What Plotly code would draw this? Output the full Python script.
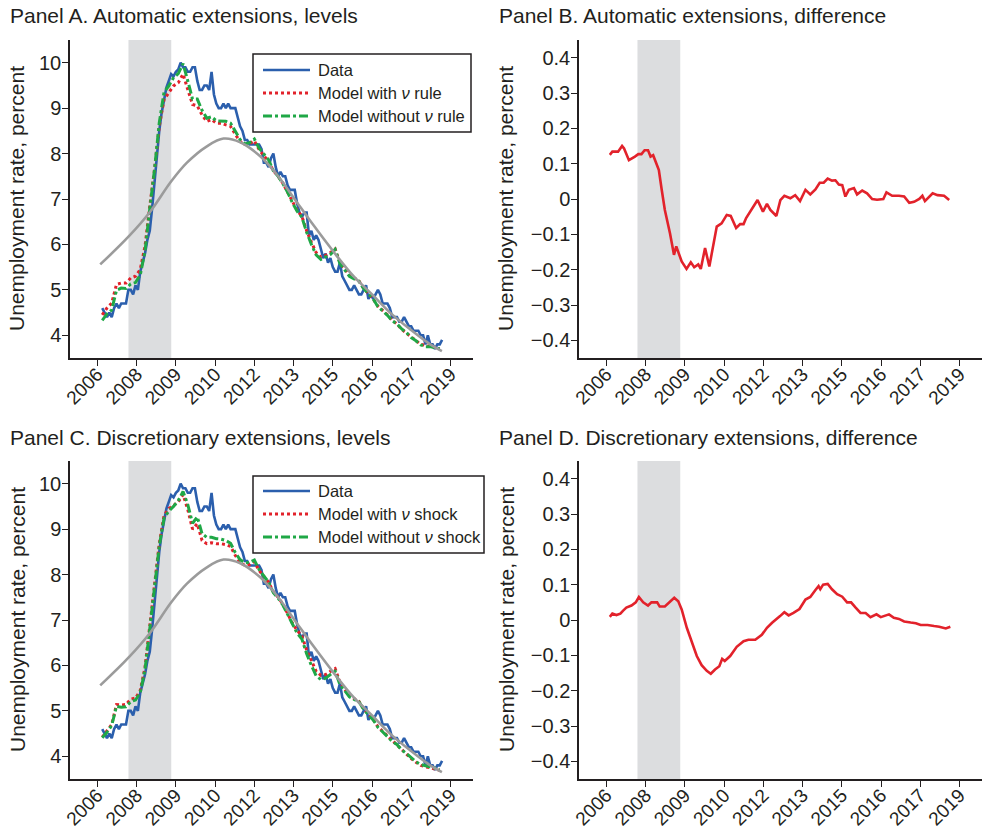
import plotly.graph_objects as go

# ---------------- data ----------------
# Monthly unemployment rate (Data), Jan 2007 - Dec 2018
data_start = 2007.0
data_rate = [
    4.6, 4.5, 4.4, 4.5, 4.4, 4.6, 4.7, 4.6, 4.7, 4.7, 4.7, 5.0,
    5.0, 4.9, 5.1, 5.0, 5.4, 5.6, 5.8, 6.1, 6.3, 6.8, 7.4, 8.0,
    8.5, 8.9, 9.2, 9.45, 9.6, 9.75, 9.7, 9.8, 9.85, 10.0, 9.9, 9.9,
    9.8, 9.8, 9.9, 9.9, 9.6, 9.4, 9.4, 9.5, 9.5, 9.4, 9.8, 9.3,
    9.1, 9.0, 9.0, 9.1, 9.0, 9.1, 9.0, 9.0, 9.0, 8.8, 8.6, 8.5,
    8.3, 8.3, 8.2, 8.2, 8.2, 8.2, 8.2, 8.1, 7.8, 7.8, 7.7, 7.9,
    8.0, 7.7, 7.5, 7.6, 7.5, 7.5, 7.3, 7.2, 7.2, 7.2, 6.9, 6.7,
    6.6, 6.7, 6.7, 6.2, 6.3, 6.1, 6.2, 6.1, 5.9, 5.7, 5.8, 5.6,
    5.7, 5.5, 5.4, 5.4, 5.6, 5.3, 5.2, 5.1, 5.0, 5.0, 5.1, 5.0,
    4.9, 4.9, 5.0, 5.1, 4.8, 4.9, 4.8, 4.9, 5.0, 4.9, 4.7, 4.7,
    4.7, 4.6, 4.4, 4.4, 4.4, 4.3, 4.3, 4.4, 4.3, 4.2, 4.2, 4.1,
    4.1, 4.1, 4.0, 4.0, 3.8, 4.0, 3.8, 3.8, 3.7, 3.8, 3.8, 3.9,
]
months = [data_start + i / 12 for i in range(len(data_rate))]

# Model paths, every two months from Jan 2007
A_with = [
    4.45, 4.6, 4.71, 5.12, 5.15, 5.15,
    5.26, 5.3, 5.45, 5.96, 6.84, 7.65,
    8.6, 9.19, 9.34, 9.49, 9.56, 9.75,
    9.41, 9.08, 9.05, 8.85, 8.71, 8.75,
    8.67, 8.67, 8.63, 8.6, 8.42, 8.27,
    8.2, 8.22, 8.28, 8.09, 7.95, 7.83,
    7.62, 7.5, 7.35, 7.15, 6.92, 6.75,
    6.62, 6.3, 6.05, 5.82, 5.72, 5.76,
    5.82, 5.9, 5.6, 5.47, 5.32, 5.26,
    5.2, 5.03, 4.92, 4.8, 4.64, 4.55,
    4.45, 4.33, 4.25, 4.13, 4.05, 3.95,
    3.88, 3.8, 3.78, 3.76, 3.73, 3.7,
]
A_without = [
    4.33, 4.47, 4.56, 4.99, 5.04, 5.03,
    5.13, 5.16, 5.33, 5.85, 6.78, 7.65,
    8.68, 9.35, 9.49, 9.67, 9.76, 9.98,
    9.6, 9.2, 9.2, 8.95, 8.78, 8.81,
    8.72, 8.72, 8.71, 8.67, 8.49, 8.31,
    8.21, 8.24, 8.32, 8.12, 7.99, 7.86,
    7.62, 7.5, 7.34, 7.15, 6.92, 6.73,
    6.6, 6.27, 6.0, 5.77, 5.67, 5.72,
    5.78, 5.89, 5.58, 5.44, 5.3, 5.24,
    5.19, 5.03, 4.92, 4.8, 4.63, 4.54,
    4.44, 4.32, 4.25, 4.14, 4.06, 3.95,
    3.88, 3.79, 3.75, 3.75, 3.72, 3.7,
]
C_with = [
    4.42, 4.55, 4.7, 5.14, 5.13, 5.14,
    5.26, 5.28, 5.45, 5.96, 6.84, 7.7,
    8.68, 9.3, 9.45, 9.52, 9.6, 9.76,
    9.43, 9.0, 9.12, 8.75, 8.68, 8.7,
    8.68, 8.68, 8.66, 8.62, 8.42, 8.27,
    8.2, 8.22, 8.28, 8.09, 7.95, 7.83,
    7.62, 7.5, 7.35, 7.15, 6.93, 6.77,
    6.65, 6.34, 6.1, 5.87, 5.78, 5.8,
    5.87, 5.93, 5.63, 5.49, 5.33, 5.27,
    5.21, 5.04, 4.93, 4.81, 4.65, 4.55,
    4.45, 4.33, 4.25, 4.13, 4.05, 3.95,
    3.87, 3.8, 3.77, 3.75, 3.72, 3.69,
]
C_without = [
    4.41, 4.53, 4.68, 5.1, 5.08, 5.09,
    5.2, 5.24, 5.4, 5.91, 6.8, 7.66,
    8.63, 9.24, 9.4, 9.5, 9.63, 9.83,
    9.54, 9.13, 9.27, 8.9, 8.82, 8.82,
    8.79, 8.78, 8.75, 8.69, 8.48, 8.33,
    8.26, 8.27, 8.32, 8.11, 7.96, 7.83,
    7.6, 7.48, 7.33, 7.12, 6.89, 6.71,
    6.58, 6.26, 6.0, 5.77, 5.69, 5.72,
    5.8, 5.87, 5.58, 5.45, 5.31, 5.25,
    5.2, 5.03, 4.92, 4.8, 4.64, 4.54,
    4.45, 4.33, 4.26, 4.14, 4.06, 3.96,
    3.88, 3.82, 3.79, 3.77, 3.74, 3.71,
]
model_t = [data_start + k / 6 for k in range(len(A_with))]

# Smooth trend (gray)
trend_t = [2006.93, 2007.92, 2008.68, 2009.42, 2009.97, 2010.67, 2011.25, 2011.84,
           2012.54, 2013.12, 2013.71, 2014.41, 2015.11, 2015.81, 2016.46, 2017.16,
           2017.8, 2018.5, 2018.91]
trend_v = [5.56, 6.17, 6.72, 7.39, 7.8, 8.16, 8.33, 8.25,
           7.94, 7.54, 7.03, 6.42, 5.84, 5.3, 4.9, 4.46,
           4.13, 3.8, 3.65]

# Panel B: difference, automatic extensions
B_t = [2006.95, 2007.04, 2007.24, 2007.38, 2007.45, 2007.62, 2007.83, 2007.95, 2008.06,
       2008.17, 2008.29, 2008.38, 2008.47, 2008.59, 2008.67, 2008.77, 2008.88, 2009.06,
       2009.2, 2009.28, 2009.36, 2009.47, 2009.64, 2009.79, 2009.91, 2010.05, 2010.14,
       2010.29, 2010.44, 2010.7, 2010.87, 2011.05, 2011.19, 2011.38, 2011.52, 2011.64,
       2011.73, 2011.87, 2011.99, 2012.13, 2012.32, 2012.46, 2012.58, 2012.79, 2012.93,
       2013.07, 2013.28, 2013.45, 2013.62, 2013.81, 2013.98, 2014.16, 2014.31, 2014.45,
       2014.59, 2014.74, 2014.86, 2014.98, 2015.1, 2015.21, 2015.33, 2015.51, 2015.62,
       2015.8, 2015.97, 2016.15, 2016.32, 2016.54, 2016.65, 2016.85, 2017.09, 2017.27,
       2017.45, 2017.62, 2017.8, 2017.91, 2018.0, 2018.27, 2018.44, 2018.67, 2018.85]
B_v = [0.125, 0.134, 0.134, 0.15, 0.143, 0.11, 0.12, 0.127, 0.127,
       0.138, 0.138, 0.12, 0.124, 0.096, 0.082, 0.026, -0.031, -0.097,
       -0.158, -0.134, -0.152, -0.177, -0.198, -0.179, -0.193, -0.185, -0.198,
       -0.139, -0.191, -0.078, -0.069, -0.045, -0.048, -0.082, -0.071, -0.071,
       -0.054, -0.036, -0.02, -0.003, -0.036, -0.014, -0.031, -0.048, -0.003,
       0.009, 0.002, 0.011, -0.006, 0.026, 0.013, 0.027, 0.046, 0.046,
       0.058, 0.052, 0.053, 0.041, 0.039, 0.007, 0.026, 0.031, 0.013,
       0.024, 0.016, 0.0, -0.002, 0.0, 0.019, 0.009, 0.009, 0.007,
       -0.011, -0.008, 0.0, 0.009, -0.006, 0.016, 0.011, 0.009, -0.003]

# Panel D: difference, discretionary extensions
D_t = [2006.95, 2007.04, 2007.18, 2007.32, 2007.41, 2007.53, 2007.71, 2007.86, 2007.97,
       2008.12, 2008.29, 2008.41, 2008.61, 2008.7, 2008.88, 2009.05, 2009.21, 2009.35,
       2009.47, 2009.65, 2009.82, 2010.0, 2010.17, 2010.35, 2010.49, 2010.64, 2010.79,
       2010.89, 2010.98, 2011.17, 2011.4, 2011.64, 2011.81, 2012.05, 2012.28, 2012.46,
       2012.64, 2012.81, 2012.92, 2013.07, 2013.22, 2013.39, 2013.6, 2013.81, 2013.98,
       2014.16, 2014.27, 2014.33, 2014.43, 2014.59, 2014.74, 2014.92, 2015.1, 2015.27,
       2015.41, 2015.57, 2015.74, 2015.92, 2016.09, 2016.3, 2016.45, 2016.74, 2016.91,
       2017.09, 2017.27, 2017.5, 2017.68, 2017.85, 2018.09, 2018.32, 2018.5, 2018.73,
       2018.89]
D_v = [0.009, 0.018, 0.014, 0.018, 0.026, 0.035, 0.041, 0.05, 0.065,
       0.05, 0.041, 0.05, 0.05, 0.038, 0.038, 0.05, 0.063, 0.053,
       0.03, -0.022, -0.064, -0.102, -0.128, -0.144, -0.152, -0.14, -0.131,
       -0.11, -0.116, -0.102, -0.076, -0.06, -0.056, -0.056, -0.042, -0.022,
       -0.008, 0.002, 0.011, 0.022, 0.013, 0.02, 0.031, 0.058, 0.065,
       0.085, 0.096, 0.087, 0.1, 0.102, 0.087, 0.073, 0.066, 0.05,
       0.05, 0.035, 0.02, 0.02, 0.008, 0.016, 0.008, 0.016, 0.006,
       0.003, -0.004, -0.007, -0.009, -0.014, -0.014, -0.017, -0.019, -0.024,
       -0.019]

tick_pos = [2006.83, 2008.21, 2009.58, 2010.96, 2012.33, 2013.71, 2015.08, 2016.46, 2017.83, 2019.21]
tick_text = ["2006", "2008", "2009", "2010", "2012", "2013", "2015", "2016", "2017", "2019"]
level_ticks = [4, 5, 6, 7, 8, 9, 10]
diff_ticks = [-0.4, -0.3, -0.2, -0.1, 0, 0.1, 0.2, 0.3, 0.4]
diff_text = ["\u22120.4", "\u22120.3", "\u22120.2", "\u22120.1", "0", "0.1", "0.2", "0.3", "0.4"]
recession = (2007.92, 2009.42)

titles = ["Panel A. Automatic extensions, levels",
          "Panel B. Automatic extensions, difference",
          "Panel C. Discretionary extensions, levels",
          "Panel D. Discretionary extensions, difference"]
ytitle = "Unemployment rate, percent"
legend_A = ["Data", "Model with <i>\u03bd</i> rule", "Model without <i>\u03bd</i> rule"]
legend_C = ["Data", "Model with <i>\u03bd</i> shock", "Model without <i>\u03bd</i> shock"]

# ---------------- style ----------------
W, H = 983, 828
FONT = "Liberation Sans, Arial, Helvetica, sans-serif"
TXT = "#231f20"
BLUE = "#2b5fad"
RED = "#e2222b"
GREEN = "#1fa846"
GRAY = "#9b9b9b"
SHADE = "#dcdddf"

xL = [70 / W, 473 / W]
xR = [579 / W, 982 / W]
yT = [1 - 358 / H, 1 - 40 / H]
yB = [1 - 779 / H, 1 - 461 / H]

fig = go.Figure()


def level_panel(xa, ya, with_v, without_v):
    fig.add_trace(go.Scatter(x=months, y=data_rate, mode="lines", showlegend=False,
                             line=dict(color=BLUE, width=2.6), xaxis=xa, yaxis=ya))
    fig.add_trace(go.Scatter(x=model_t, y=with_v, mode="lines", showlegend=False,
                             line=dict(color=RED, width=3, dash="dot"), xaxis=xa, yaxis=ya))
    fig.add_trace(go.Scatter(x=model_t, y=without_v, mode="lines", showlegend=False,
                             line=dict(color=GREEN, width=3, dash="dashdot"), xaxis=xa, yaxis=ya))
    fig.add_trace(go.Scatter(x=trend_t, y=trend_v, mode="lines", showlegend=False,
                             line=dict(color=GRAY, width=2.6, shape="spline", smoothing=1.0),
                             xaxis=xa, yaxis=ya))


def diff_panel(xa, ya, t, v):
    fig.add_trace(go.Scatter(x=t, y=v, mode="lines", showlegend=False,
                             line=dict(color=RED, width=2.6), xaxis=xa, yaxis=ya))


level_panel("x", "y", A_with, A_without)
diff_panel("x2", "y2", B_t, B_v)
level_panel("x3", "y3", C_with, C_without)
diff_panel("x4", "y4", D_t, D_v)

xcommon = dict(range=[2005.87, 2020.0], tickvals=tick_pos, ticktext=tick_text, tickangle=-45,
               showline=True, linecolor=TXT, linewidth=1.5, ticks="outside", ticklen=6,
               tickwidth=1.3, tickcolor=TXT, showgrid=False, zeroline=False,
               ticklabelstandoff=-10,
               tickfont=dict(size=19, color=TXT, family=FONT), automargin=False)
ylev = dict(range=[3.5, 10.5], tickvals=level_ticks, showline=True, linecolor=TXT, linewidth=1.5,
            ticks="outside", ticklen=6, tickwidth=1.3, tickcolor=TXT, showgrid=False,
            zeroline=False, ticklabelstandoff=-3,
            tickfont=dict(size=20, color=TXT, family=FONT), automargin=False)
ydif = dict(ylev, range=[-0.45, 0.45], tickvals=diff_ticks, ticktext=diff_text)

fig.update_layout(
    width=W, height=H, margin=dict(l=0, r=0, t=0, b=0),
    paper_bgcolor="white", plot_bgcolor="white", showlegend=False,
    font=dict(family=FONT, color=TXT),
    xaxis=dict(xcommon, domain=xL, anchor="y"),
    yaxis=dict(ylev, domain=yT, anchor="x"),
    xaxis2=dict(xcommon, domain=xR, anchor="y2"),
    yaxis2=dict(ydif, domain=yT, anchor="x2"),
    xaxis3=dict(xcommon, domain=xL, anchor="y3"),
    yaxis3=dict(ylev, domain=yB, anchor="x3"),
    xaxis4=dict(xcommon, domain=xR, anchor="y4"),
    yaxis4=dict(ydif, domain=yB, anchor="x4"),
)

# recession shading
for xr, yr in [("x", "y"), ("x2", "y2"), ("x3", "y3"), ("x4", "y4")]:
    fig.add_shape(type="rect", xref=xr, yref=yr + " domain", x0=recession[0], x1=recession[1],
                  y0=0, y1=1, fillcolor=SHADE, line=dict(width=0), layer="below")

# legends (drawn as box + sample lines + text)
styles = [dict(color=BLUE, width=2.6), dict(color=RED, width=3, dash="dot"),
          dict(color=GREEN, width=3, dash="dashdot")]
for (bx0, bx1, by0, by1, rows), labels in [((253, 471, 54, 132, (70, 93, 116)), legend_A),
                                           ((253, 484, 476, 553, (491, 514, 537)), legend_C)]:
    fig.add_shape(type="rect", xref="paper", yref="paper", x0=bx0 / W, x1=bx1 / W,
                  y0=1 - by1 / H, y1=1 - by0 / H, line=dict(color=TXT, width=1.5),
                  fillcolor="white", layer="above")
    for ry, lab, st in zip(rows, labels, styles):
        fig.add_shape(type="line", xref="paper", yref="paper", x0=263 / W, x1=310 / W,
                      y0=1 - ry / H, y1=1 - ry / H, line=st, layer="above")
        fig.add_annotation(text=lab, x=316 / W, y=1 - ry / H, xref="paper", yref="paper",
                           xanchor="left", yanchor="middle", showarrow=False,
                           font=dict(size=16.5, color=TXT, family=FONT))

# panel titles
pos = [(8 / W, 1 - 16 / H), (497 / W, 1 - 16 / H), (8 / W, 1 - 437 / H), (497 / W, 1 - 437 / H)]
for (px, py), t in zip(pos, titles):
    fig.add_annotation(text=t, x=px, y=py, xref="paper", yref="paper", xanchor="left",
                       yanchor="middle", showarrow=False, font=dict(size=21, color=TXT, family=FONT))

# y-axis titles
for px, dom in [(17 / W, yT), (506 / W, yT), (17 / W, yB), (506 / W, yB)]:
    fig.add_annotation(text=ytitle, x=px, y=(dom[0] + dom[1]) / 2, xref="paper", yref="paper",
                       xanchor="center", yanchor="middle", textangle=-90, showarrow=False,
                       font=dict(size=21, color=TXT, family=FONT))

fig.write_html("out.html")
